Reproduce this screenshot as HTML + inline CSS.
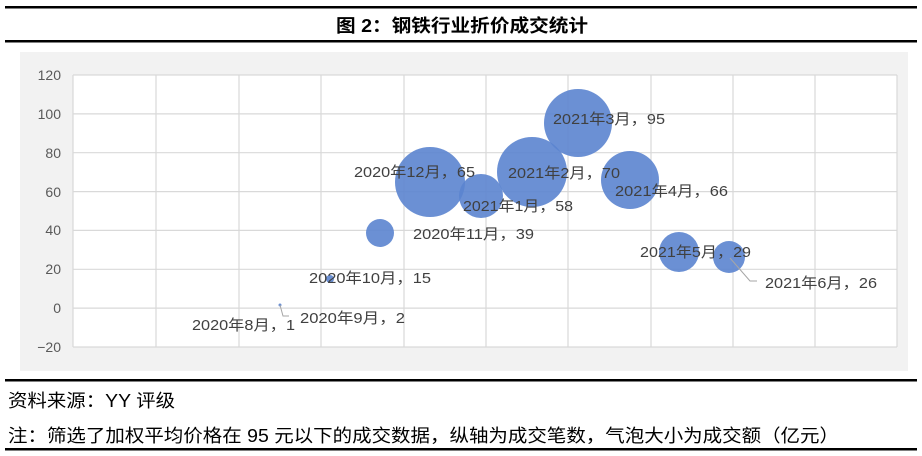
<!DOCTYPE html>
<html><head><meta charset="utf-8"><style>
body{margin:0;width:922px;height:456px;background:#fff;overflow:hidden;font-family:"Liberation Sans","Noto Sans CJK SC",sans-serif;}
svg{position:absolute;left:0;top:0}
</style></head><body>
<svg width="922" height="456" xmlns="http://www.w3.org/2000/svg" font-family="Liberation Sans, Noto Sans CJK SC, sans-serif">
<rect x="5" y="6" width="912" height="2.5" fill="#000"/>
<text x="336" y="32" font-size="18" font-weight="bold" fill="#000" textLength="252" lengthAdjust="spacingAndGlyphs">图 2：钢铁行业折价成交统计</text>
<rect x="5" y="40" width="912" height="2.5" fill="#000"/>
<rect x="20" y="52" width="888" height="319" fill="#f2f2f2"/>
<rect x="73" y="75" width="824" height="272" fill="#fff"/>
<g stroke="#d9d9d9" stroke-width="1.2">
<line x1="73" y1="75" x2="897" y2="75"/><line x1="73" y1="113.9" x2="897" y2="113.9"/><line x1="73" y1="152.7" x2="897" y2="152.7"/><line x1="73" y1="191.6" x2="897" y2="191.6"/><line x1="73" y1="230.4" x2="897" y2="230.4"/><line x1="73" y1="269.3" x2="897" y2="269.3"/><line x1="73" y1="308.1" x2="897" y2="308.1"/><line x1="73" y1="347" x2="897" y2="347"/>
<line x1="73" y1="75" x2="73" y2="347"/><line x1="156" y1="75" x2="156" y2="347"/><line x1="239" y1="75" x2="239" y2="347"/><line x1="321" y1="75" x2="321" y2="347"/><line x1="404" y1="75" x2="404" y2="347"/><line x1="486" y1="75" x2="486" y2="347"/><line x1="568" y1="75" x2="568" y2="347"/><line x1="651" y1="75" x2="651" y2="347"/><line x1="733" y1="75" x2="733" y2="347"/><line x1="815" y1="75" x2="815" y2="347"/><line x1="897" y1="75" x2="897" y2="347"/>
</g>
<g font-size="14" fill="#595959" text-anchor="end">
<text x="61" y="80">120</text><text x="61" y="119">100</text><text x="61" y="158">80</text><text x="61" y="197">60</text><text x="61" y="235">40</text><text x="61" y="274">20</text><text x="61" y="313">0</text><text x="61" y="352">−20</text>
</g>
<g fill="#5b84cf" fill-opacity="0.9">
<circle cx="280" cy="305" r="1.5"/>
<circle cx="330" cy="279" r="4"/>
<circle cx="380" cy="233" r="14"/>
<circle cx="430" cy="182" r="35"/>
<circle cx="481" cy="196" r="22"/>
<circle cx="532" cy="172" r="35"/>
<circle cx="578" cy="123" r="34"/>
<circle cx="630" cy="180" r="29"/>
<circle cx="679" cy="252" r="20"/>
<circle cx="729" cy="257" r="16"/>
</g>
<g stroke="#a6a6a6" fill="none" stroke-width="1">
<polyline points="280,305 283,316 289,316"/>
<polyline points="730,258 750,281 757,281"/>
</g>
<g font-size="15" fill="#404040" lengthAdjust="spacingAndGlyphs">
<text x="354" y="177" textLength="121" lengthAdjust="spacingAndGlyphs">2020年12月，65</text>
<text x="413" y="239" textLength="121" lengthAdjust="spacingAndGlyphs">2020年11月，39</text>
<text x="309" y="283" textLength="122" lengthAdjust="spacingAndGlyphs">2020年10月，15</text>
<text x="300" y="323" textLength="105" lengthAdjust="spacingAndGlyphs">2020年9月，2</text>
<text x="192" y="330" textLength="103" lengthAdjust="spacingAndGlyphs">2020年8月，1</text>
<text x="463" y="211" textLength="110" lengthAdjust="spacingAndGlyphs">2021年1月，58</text>
<text x="508" y="178" textLength="112" lengthAdjust="spacingAndGlyphs">2021年2月，70</text>
<text x="553" y="124" textLength="112" lengthAdjust="spacingAndGlyphs">2021年3月，95</text>
<text x="615" y="196" textLength="113" lengthAdjust="spacingAndGlyphs">2021年4月，66</text>
<text x="640" y="257" textLength="111" lengthAdjust="spacingAndGlyphs">2021年5月，29</text>
<text x="765" y="288" textLength="112" lengthAdjust="spacingAndGlyphs">2021年6月，26</text>
</g>
<rect x="5" y="379" width="912" height="2.5" fill="#000"/>
<text x="8" y="407" font-size="18" fill="#000" textLength="167" lengthAdjust="spacingAndGlyphs">资料来源：YY 评级</text>
<text x="8" y="442" font-size="18" fill="#000" textLength="831" lengthAdjust="spacingAndGlyphs">注：筛选了加权平均价格在 95 元以下的成交数据，纵轴为成交笔数，气泡大小为成交额（亿元）</text>
<rect x="5" y="448" width="912" height="2.5" fill="#000"/>
</svg>
</body></html>
